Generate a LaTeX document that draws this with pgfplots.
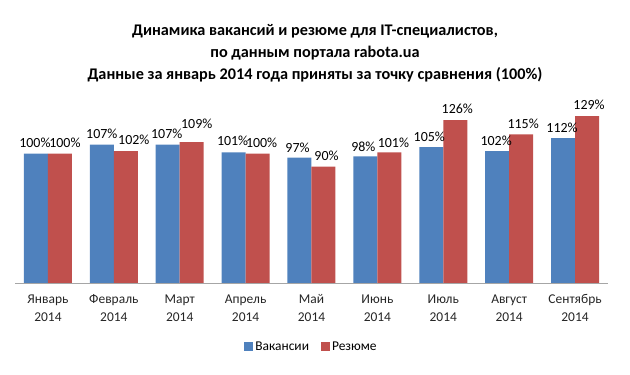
\documentclass[border=0pt]{standalone}
\usepackage{pgfplots}
\pgfplotsset{compat=1.18}
\usepackage{fontspec}
\setmainfont{Carlito}
\definecolor{cblue}{HTML}{4F81BD}
\definecolor{cred}{HTML}{C0504D}
\begin{document}
\begin{tikzpicture}
\useasboundingbox (0,0) rectangle (630bp,375bp);
\node[align=center, font=\bfseries\fontsize{16.3}{22}\selectfont] at (315bp,322bp)
 {Динамика вакансий и резюме для IT-специалистов,\\по данным портала rabota.ua\\Данные за январь 2014 года приняты за точку сравнения (100\%)};
\begin{axis}[
  at={(15bp,92bp)}, anchor=south west,
  scale only axis, width=593bp, height=181bp,
  xmin=-0.5, xmax=8.5, ymin=0, ymax=140,
  ybar=0pt, bar width=24bp,
  axis x line*=bottom, axis y line=none,
  axis line style={draw=gray!70, line width=0.8pt, -},
  xtick={0,...,8}, xtick style={draw=none},
  xticklabels={{Январь\\2014},{Февраль\\2014},{Март\\2014},{Апрель\\2014},{Май\\2014},{Июнь\\2014},{Июль\\2014},{Август\\2014},{Сентябрь\\2014}},
  xticklabel style={align=center, font=\fontsize{13.5}{18}\selectfont, text=black!85, yshift=-4bp},
  /pgf/number format/assume math mode=true,
  visualization depends on={\thisrow{off} \as \yoff},
  visualization depends on={\thisrow{dx} \as \xoff},
  nodes near coords={\pgfmathprintnumber{\pgfplotspointmeta}\%},
  nodes near coords style={font=\fontsize{14}{15}\selectfont, text=black, inner sep=1bp, yshift=\yoff bp, xshift=\xoff bp},
  legend style={at={(0.5,-0.30)}, anchor=north, draw=none, legend columns=2, font=\fontsize{13.5}{15}\selectfont,
    /tikz/every even column/.append style={column sep=10bp}},
  legend image code/.code={\fill[#1] (0bp,-4bp) rectangle (9bp,5bp);},
]
\addplot[fill=cblue, draw=none] table {
x y off dx
0 100 5 -1
1 107 5 0
2 107 5 -1
3 101 6 -1
4 97 4 -2
5 98 3 -2
6 105 4 -2
7 102 4 -1
8 112 4 -1
};
\addplot[fill=cred, draw=none] table {
x y off dx
0 100 5 5
1 102 5 8
2 109 12 5
3 100 5 4
4 90 5 3
5 101 4 4
6 126 5 2
7 115 5 2
8 129 5 2
};
\legend{Вакансии, Резюме}
\end{axis}
\end{tikzpicture}
\end{document}
